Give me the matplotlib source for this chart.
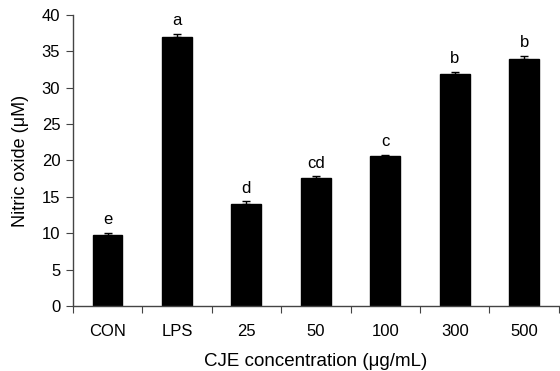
import matplotlib
matplotlib.use("Agg")
import matplotlib.pyplot as plt
import numpy as np

categories = ["CON", "LPS", "25", "50", "100", "300", "500"]
values = [9.75, 36.9, 14.0, 17.6, 20.6, 31.9, 33.9]
errors = [0.3, 0.5, 0.37, 0.2, 0.15, 0.3, 0.5]
letters = ["e", "a", "d", "cd", "c", "b", "b"]
yticks = [0, 5, 10, 15, 20, 25, 30, 35, 40]

plt.rcParams['font.family'] = ['Liberation Sans', 'DejaVu Sans']

fig = plt.figure(figsize=(5.6, 3.71), dpi=100)
ax = fig.add_axes([0.130, 0.175, 0.868, 0.785])

x = np.arange(len(categories))
ax.bar(x, values, width=0.43, color="black", edgecolor="black", zorder=2)
ax.errorbar(x, values, yerr=[np.zeros(len(errors)), errors], fmt="none",
            ecolor="black", elinewidth=1.0, capsize=3, capthick=1.0, zorder=3)
for xi, v, e, t in zip(x, values, errors, letters):
    ax.annotate(t, (xi, v + e), xytext=(0, 4), textcoords="offset points",
                ha="center", va="bottom", fontsize=12)

ax.set_xlim(-0.5, len(categories) - 0.5)
ax.set_ylim(0, 40)
ax.set_yticks(yticks)
ax.set_yticklabels([str(t) for t in yticks], fontsize=12)

ax.set_xticks(np.arange(-0.5, len(categories), 1.0))
ax.set_xticklabels([])
ax.set_xticks(x, minor=True)
ax.set_xticklabels(categories, minor=True, fontsize=12)
ax.tick_params(axis="x", which="minor", length=0, pad=13)
ax.tick_params(axis="x", which="major", length=5, direction="out", color="#444444")
ax.tick_params(axis="y", length=5, direction="out", color="#444444", pad=4)

for s in ["top", "right"]:
    ax.spines[s].set_visible(False)
for s in ["left", "bottom"]:
    ax.spines[s].set_color("#444444")
    ax.spines[s].set_linewidth(1.0)

ax.set_ylabel("Nitric oxide (μM)", fontsize=13, labelpad=9)
ax.set_xlabel("CJE concentration (μg/mL)", fontsize=13.5, labelpad=10)

fig.savefig("out.png", dpi=100)
